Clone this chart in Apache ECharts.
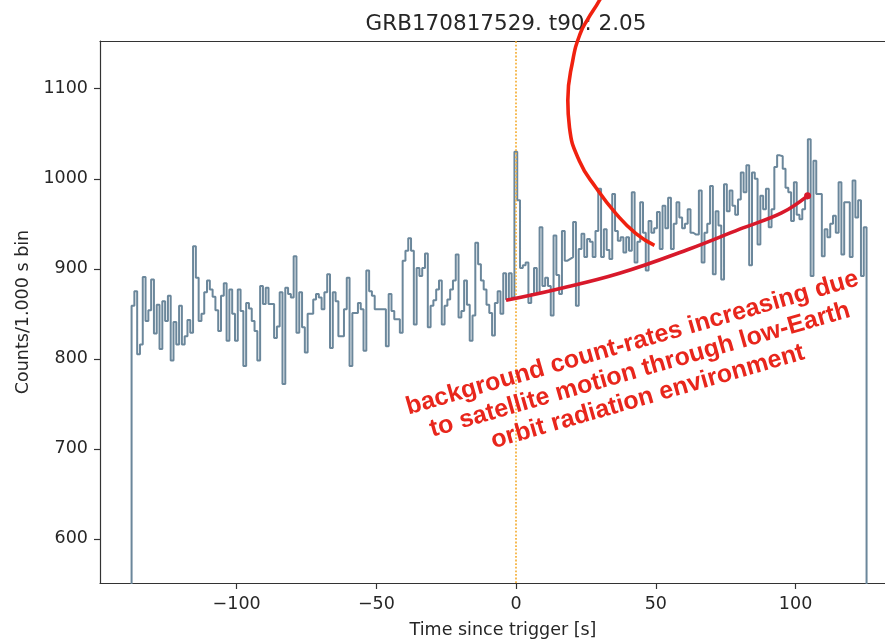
<!DOCTYPE html>
<html>
<head>
<meta charset="utf-8">
<script src="https://cdn.jsdelivr.net/npm/echarts@6/dist/echarts.min.js"></script>
<style>
html,body{margin:0;padding:0;background:#fff;}
#chart{width:885px;height:639px;}
</style>
</head>
<body>
<div id="chart"></div>
<script>
// ---- data ----
const titleText = 'GRB170817529. t90: 2.05';
const xName = 'Time since trigger [s]';
const yName = 'Counts/1.000 s bin';
const xTicks = [-100, -50, 0, 50, 100];
const yTicks = [600, 700, 800, 900, 1000, 1100];
const binStart = -137.6;   // left edge of first 1-s bin
const binWidth = 1.0;
const counts = [
 859,875,805,816,891,842,854,888,828,860,
 811,864,842,870,798,841,816,859,816,825,
 843,829,925,890,842,850,874,887,877,869,
 854,831,870,884,820,877,850,820,877,853,
 792,862,856,842,831,798,881,861,879,861,
 861,823,836,874,772,879,872,868,914,829,
 874,835,807,850,850,866,872,868,855,874,
 894,812,874,864,825,825,855,890,792,851,
 851,862,855,809,898,875,870,855,855,855,
 855,814,872,853,844,844,829,909,920,934,
 920,838,901,892,901,917,835,859,865,877,
 887,838,859,866,877,887,916,846,853,887,
 860,820,848,929,905,887,877,860,851,826,
 862,875,850,895,866,895,868,1030,976,901,
 904,907,862,872,901,872,946,881,890,881,
 848,937,893,872,942,909,911,913,952,859,
 922,939,913,933,930,913,942,989,913,944,
 921,911,983,942,931,935,918,935,920,985,
 907,930,974,940,898,953,940,945,963,922,
 970,945,979,922,950,974,957,945,950,966,
 940,938,938,987,907,940,950,992,894,964,
 948,888,994,964,987,970,960,977,1007,985,
 1015,904,1007,1000,927,981,966,989,946,966,
 1013,1026,1025,1011,990,985,953,996,960,955,
 966,978,1044,892,1020,983,983,914,944,935,
 950,959,940,996,916,974,974,913,998,957,
 976,892,946
];
const triggerTime = 0;
// hand-drawn annotations (data space)
const arcT = [31.5, 29.8, 25.6, 22.9, 20.25, 18.5, 19.1, 22.6, 28.6, 35.8, 42.9, 49.5];
const arcC = [1210, 1198, 1177, 1161, 1131, 1087, 1057, 1020, 990, 961, 939, 926];
const trendT = [-3.6, 14.3, 37, 62, 80, 95, 104.3];
const trendC = [865, 877, 895, 922, 944, 962, 981];
const noteText = 'background count-rates increasing due\nto satellite motion through low-Earth\norbit radiation environment';

// ---- build step histogram ----
const stepPts = [[binStart, 0]];
counts.forEach((v, i) => {
  const e0 = binStart + i * binWidth;
  stepPts.push([e0, v], [e0 + binWidth, v]);
});
stepPts.push([binStart + counts.length * binWidth, 0]);

const arcPts = arcT.map((t, i) => [t, arcC[i]]);
const trendPts = trendT.map((t, i) => {
  const p = {value: [t, trendC[i]]};
  if (i === trendT.length - 1) { p.symbol = 'circle'; p.symbolSize = 7; }
  return p;
});

const txt = '#262626';
const font = 'DejaVu Sans';
const fmt = v => (v < 0 ? '\u2212' + Math.abs(v) : String(v));
const xMin = -148.9, xMax = 132.0;

const chart = echarts.init(document.getElementById('chart'), null, {renderer: 'canvas'});
chart.setOption({
  animation: false,
  backgroundColor: '#ffffff',
  title: {
    text: titleText,
    left: 501, top: 8, textAlign: 'center',
    textStyle: {fontFamily: font, fontSize: 21.5, fontWeight: 'normal', color: txt}
  },
  grid: {left: 100, right: 0, top: 41, bottom: 56, show: false, containLabel: false, outerBoundsMode: 'none'},
  xAxis: [{
    type: 'value', min: xMin, max: xMax, position: 'bottom',
    axisLine: {show: true, onZero: false, lineStyle: {color: '#333', width: 1.2}},
    axisTick: {show: true, length: 6, customValues: xTicks, lineStyle: {color: '#333', width: 1.2}},
    axisLabel: {customValues: xTicks, formatter: fmt, fontFamily: font, fontSize: 17.5, color: txt, margin: 12},
    splitLine: {show: false},
    name: xName, nameLocation: 'middle', nameGap: 38,
    nameTextStyle: {fontFamily: font, fontSize: 17.5, color: txt, padding: [0, 0, 0, 21]}
  }, {
    type: 'value', min: xMin, max: xMax, position: 'top',
    axisLine: {show: true, onZero: false, lineStyle: {color: '#333', width: 1.2}},
    axisTick: {show: false}, axisLabel: {show: false}, splitLine: {show: false}
  }],
  yAxis: {
    type: 'value', min: 551, max: 1153,
    axisLine: {show: true, onZero: false, lineStyle: {color: '#333', width: 1.2}},
    axisTick: {show: true, length: 6, customValues: yTicks, lineStyle: {color: '#333', width: 1.2}},
    axisLabel: {customValues: yTicks, formatter: v => String(v), fontFamily: font, fontSize: 17.5, color: txt, margin: 12},
    splitLine: {show: false},
    name: yName, nameLocation: 'middle', nameGap: 62,
    nameTextStyle: {fontFamily: font, fontSize: 17.5, color: txt}
  },
  series: [
    {
      type: 'line', data: stepPts, showSymbol: false, symbol: 'none',
      lineStyle: {color: '#6b879b', width: 2.0}, z: 3,
      markLine: {
        silent: true, symbol: 'none', label: {show: false},
        lineStyle: {color: '#f6b443', type: 'dotted', width: 1.8},
        data: [{xAxis: triggerTime}]
      }
    },
    {
      type: 'line', data: arcPts, smooth: 0.5, showSymbol: false, symbol: 'none', clip: false,
      lineStyle: {color: '#f0210f', width: 3.6}, z: 20
    },
    {
      type: 'line', data: trendPts, smooth: 0.4, symbol: 'none', showSymbol: true, clip: false,
      itemStyle: {color: '#d8192b'},
      lineStyle: {color: '#d8192b', width: 3.6}, z: 20
    }
  ],
  graphic: [{
    type: 'text', x: 640, y: 370, rotation: 16 * Math.PI / 180, z: 100,
    style: {
      text: noteText, fill: '#e8261c', fontFamily: 'Liberation Sans', fontWeight: 'bold',
      fontSize: 25, lineHeight: 28, align: 'center', verticalAlign: 'middle'
    }
  }]
});
</script>
</body>
</html>
